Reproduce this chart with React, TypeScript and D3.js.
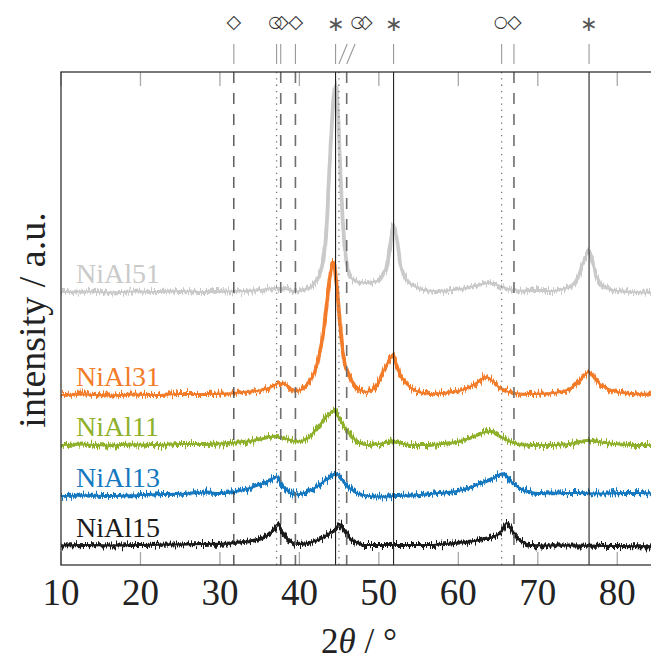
import React from "react";
import * as d3 from "d3";

// ---- data (2θ in degrees, intensity in a.u., offset per sample) ----
const niAl51: [number, number][] = [[10,273],[13,273.5],[16,272.5],[19,273.5],[22,273],[25,274],[28,273],[31,273.5],[33,274],[35,275],[36.5,276.5],[37.5,277],[38.5,275.5],[39.6,273.5],[40.5,275],[41.3,277.5],[42.2,285],[42.6,292],[43.0,305],[43.4,335],[43.8,400],[44.2,455],[44.55,480],[44.9,445],[45.1,405],[45.5,338],[45.9,305],[46.3,290],[46.8,285],[47.5,283],[48.4,282],[49.3,283],[50.1,285],[50.6,292],[51.0,298],[51.4,318],[51.85,340],[52.4,318],[52.7,300],[53.05,292],[53.6,284],[54.7,278],[55.5,275],[57,274],[59.3,275],[61,277],[62.5,280],[64,282],[65.2,279],[66.9,275],[69,274],[71.9,274],[73.5,277],[74.4,280],[75.2,290],[75.7,302],[76.45,313],[77.0,300],[77.4,288],[78,281],[78.6,277],[80,274],[82,273],[85,272]];
const niAl31: [number, number][] = [[10,170],[13,170.5],[16,169.5],[19,170.5],[22,170],[25,171],[28,171],[31,171.5],[33,173],[35,174.5],[36.5,178],[37.5,182],[38.4,180],[39.5,174],[40.5,176],[41.3,184],[42,195],[42.6,214],[43.0,232],[43.4,258],[43.8,285],[44.25,303],[44.7,278],[45.1,242],[45.4,218],[45.7,202],[46.2,190],[46.8,182],[47.5,176],[48.4,173],[49.3,176],[50.1,185],[50.7,196],[51.2,203],[51.75,210],[52.2,201],[52.6,192],[53.2,184],[53.9,178],[55,173],[56.4,171],[58,172],[59.3,173],[60.5,175],[61.4,178],[62.5,183],[63.5,188],[64.3,184],[65.2,177],[66,174],[66.9,172],[69,171],[71.9,172],[73.3,174],[74.4,178],[75.3,185],[76.45,193],[77.2,187],[77.8,181],[78.6,177],[80,173],[82,171],[85,170]];
const niAl11: [number, number][] = [[10,120],[13,120.5],[16,119.5],[19,120.5],[22,120],[25,121],[28,121],[31.3,122],[34,124],[36.7,128.3],[38.5,126],[39.6,123.3],[40.7,125],[41.7,131.7],[42.6,140],[43.4,148.3],[44.3,153.3],[45,147],[45.5,140],[46.2,132],[46.8,126.7],[47.6,122],[48.4,120],[50,121],[51.8,123.5],[53,121],[53.9,120],[56.4,120],[58,121],[59.3,122.3],[60.7,125],[61.9,128.3],[63,132],[64,133.3],[65,130],[66.1,125],[67.7,120.7],[70,120],[71.9,120],[74,121],[76.45,124.3],[78.5,122],[80.3,120.7],[82.5,120],[85,120]];
const niAl13: [number, number][] = [[10,69],[13,69.5],[16,69],[20,70],[23,71],[26,71.5],[28,72.5],[30,72],[31.3,72.5],[32.5,74],[33.8,77],[35.45,81.7],[36.5,85.5],[37.1,88.3],[37.5,84],[37.97,78.3],[38.6,73.5],[39.2,70.5],[40.5,71.7],[41.3,74.5],[42.2,78.3],[43.6,86.7],[44.6,91.7],[45.2,87],[45.7,81.7],[46.4,76.5],[47.2,71.7],[48.4,69.5],[49.7,68.3],[52,69],[55.2,70],[57,71.5],[59.3,73.3],[61,76],[62.3,80],[63.4,83.5],[64.4,86.7],[65.6,91.7],[66.2,87],[66.9,81.7],[67.7,77],[68.6,73.3],[70,72],[71.9,71.7],[75,72],[78,71.5],[81,72],[85,71.7]];
const niAl15: [number, number][] = [[10,19.5],[13,20],[16,19.5],[20,20],[24,20.5],[28,21],[31.3,21.7],[33,23],[34.6,25],[35.6,28],[36.3,31.7],[36.9,36],[37.3,41],[37.8,34],[38.4,26.7],[39,23],[39.6,21],[40.7,21.5],[41.7,23.3],[42.8,26.5],[43.8,31.7],[44.6,36],[45.1,41],[45.5,36],[46,30],[46.35,26.7],[47.2,22.5],[48,20],[52,20],[56.4,20],[59,21.5],[61.4,23.3],[63,25.5],[64.4,28.3],[65.4,33],[66.1,42],[66.6,36],[67.3,28.3],[68.1,23],[69,20],[72,19.5],[75,19.5],[80,19],[85,18.5]];

const seriesNames = ["NiAl51", "NiAl31", "NiAl11", "NiAl13", "NiAl15"];
const seriesData = [niAl51, niAl31, niAl11, niAl13, niAl15];
const seriesColors = ["#cacaca", "#f37c2a", "#8fb02a", "#1478c0", "#1a1a1a"];

// reference reflections
const niRefs = [44.55, 51.85, 76.45]; // * (solid)
const circleRefs = [37.13, 44.97, 65.45]; // ○ (dotted)
const circleMarkAt = [36.95, 47.3, 65.35];
const diamondRefs = [31.75, 37.65, 39.5, 45.95, 67.0]; // ◇ (dashed)
const diamondMarkAt = [31.75, 37.75, 39.55, 48.3, 67.05];

const xTicks = [10, 20, 30, 40, 50, 60, 70, 80];

export default function App() {
  const left = 61, right = 657, top = 72, bottom = 565;
  const x = d3.scaleLinear().domain([10, 85]).range([left, right]);
  const y = d3.scaleLinear().domain([0, 493]).range([bottom, top]);
  const line = d3
    .line<[number, number]>()
    .x((d) => x(d[0]))
    .y((d) => y(d[1]))
    .curve(d3.curveMonotoneX);

  const serif = "'Liberation Serif', 'Times New Roman', serif";
  const symFont = "'DejaVu Sans', sans-serif";

  const refLine = (pos: number, key: string, stroke: string, width: number, dash?: string) => (
    <line key={key} x1={x(pos)} x2={x(pos)} y1={top} y2={bottom} stroke={stroke} strokeWidth={width} strokeDasharray={dash} />
  );

  const topTick = (pos: number, markAt: number, key: string, slant: boolean) => {
    const x0 = x(pos);
    const x1 = slant ? x0 + (x(markAt) - x0) * 0.45 : x0;
    return <line key={key} x1={x0} y1={64} x2={x1} y2={44} stroke="#999" strokeWidth={1.1} />;
  };

  return (
    <svg width={651} height={661} style={{ position: "absolute", left: 0, top: 0, background: "#fff" }}>
      <defs>
        <clipPath id="plotClip">
          <rect x={left} y={top - 20} width={right - left} height={bottom - top + 20} />
        </clipPath>
        <filter id="noisy" filterUnits="userSpaceOnUse" x={0} y={0} width={651} height={661} colorInterpolationFilters="sRGB">
          <feTurbulence type="fractalNoise" baseFrequency="0.8 0.05" numOctaves={2} seed={4} result="t" />
          <feComponentTransfer in="t" result="t2">
            <feFuncR type="linear" slope={0} intercept={0.5} />
          </feComponentTransfer>
          <feDisplacementMap in="SourceGraphic" in2="t2" scale={12} xChannelSelector="R" yChannelSelector="G" />
        </filter>
      </defs>

      {/* series */}
      <g clipPath="url(#plotClip)">
        {seriesData.map((s, i) => (
          <g key={seriesNames[i]}>
            <path d={line(s) || ""} fill="none" stroke={seriesColors[i]} strokeWidth={3.8} strokeLinejoin="round" filter="url(#noisy)" />
            <path d={line(s) || ""} fill="none" stroke={seriesColors[i]} strokeWidth={2.2} strokeLinejoin="round" />
          </g>
        ))}
      </g>

      {/* series labels */}
      {seriesData.map((s, i) => (
        <text key={"lab" + i} x={left + 15} y={y(s[0][1]) - 9} fill={seriesColors[i]} fontFamily={serif} fontSize={28}>
          {seriesNames[i]}
        </text>
      ))}

      {/* reference lines */}
      {diamondRefs.map((p, i) =>
        i === 0 ? refLine(p, "d" + i, "#222", 1.1, "11,10") : refLine(p, "d" + i, "#6e6e6e", 1.6, "11,10")
      )}
      {circleRefs.map((p, i) => refLine(p, "c" + i, "#777", 1.3, "1.3,5"))}
      {niRefs.map((p, i) => refLine(p, "n" + i, "#222", 1.1))}

      {/* axis ticks */}
      {xTicks.map((t) => (
        <g key={"t" + t}>
          <line x1={x(t)} x2={x(t)} y1={top} y2={top + 14} stroke="#a8a8a8" strokeWidth={1.3} />
          <line x1={x(t)} x2={x(t)} y1={bottom} y2={bottom - 13} stroke="#a8a8a8" strokeWidth={1.3} />
        </g>
      ))}

      {/* frame */}
      <rect x={left} y={top} width={right - left} height={bottom - top} fill="none" stroke="#333" strokeWidth={1.3} />

      {/* top markers */}
      {diamondRefs.map((p, i) => topTick(p, diamondMarkAt[i], "td" + i, i === 3))}
      {circleRefs.map((p, i) => topTick(p, circleMarkAt[i], "tc" + i, i === 1))}
      {niRefs.map((p, i) => topTick(p, p, "tn" + i, false))}
      {diamondMarkAt.map((p, i) => (
        <text key={"sd" + i} x={x(p)} y={21} textAnchor="middle" dominantBaseline="central" fontFamily={symFont} fontSize={19} fill="#333">◇</text>
      ))}
      {circleMarkAt.map((p, i) => (
        <text key={"sc" + i} x={x(p)} y={21} textAnchor="middle" dominantBaseline="central" fontFamily={symFont} fontSize={16} fill="#333">○</text>
      ))}
      {niRefs.map((p, i) => (
        <text key={"sn" + i} x={x(p)} y={24} textAnchor="middle" dominantBaseline="central" fontFamily={serif} fontSize={21} fill="#555">∗</text>
      ))}

      {/* x tick labels */}
      {xTicks.map((t) => (
        <text key={"xl" + t} x={x(t)} y={605} textAnchor="middle" fontFamily={serif} fontSize={37} fill="#222">
          {t}
        </text>
      ))}

      {/* axis titles */}
      <text x={(left + right) / 2} y={653} textAnchor="middle" fontFamily={serif} fontSize={35} fill="#222">
        2<tspan fontStyle="italic">θ</tspan> / °
      </text>
      <text transform={`translate(45, 320) rotate(-90)`} textAnchor="middle" fontFamily={serif} fontSize={38} fill="#222">
        intensity / a.u.
      </text>
    </svg>
  );
}
